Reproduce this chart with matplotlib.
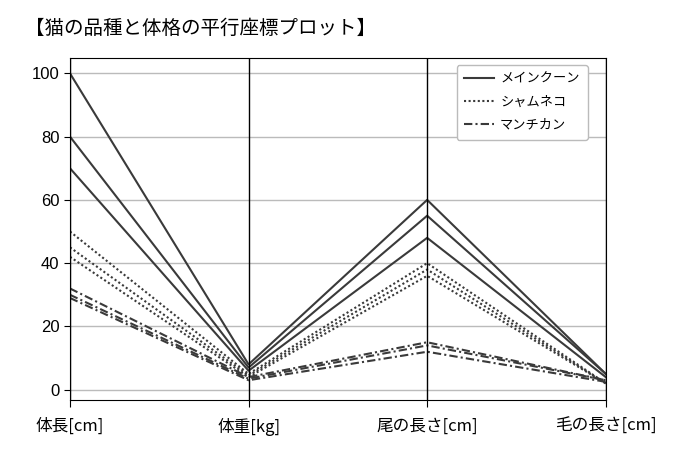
import matplotlib
matplotlib.use("Agg")
import matplotlib.pyplot as plt

plt.rcParams['font.family'] = ['Noto Sans CJK JP', 'DejaVu Sans']

features = ["体長[cm]", "体重[kg]", "尾の長さ[cm]", "毛の長さ[cm]"]
breeds = ["メインクーン", "シャムネコ", "マンチカン"]

maine_coon = [[100, 8, 60, 5], [80, 7, 55, 5], [70, 6, 48, 4]]
siamese = [[50, 5, 40, 2], [45, 4.5, 38, 2], [42, 4, 36, 2]]
munchkin = [[32, 4, 15, 3], [30, 3.5, 14, 3], [29, 3, 12, 2.5]]
title = "【猫の品種と体格の平行座標プロット】"

data = [maine_coon, siamese, munchkin]
styles = ["-", (0, (1, 1.2)), (0, (4, 1.5, 1, 1.5))]
color = "#3a3a3a"

fig = plt.figure(figsize=(6.86, 4.58), dpi=100)
ax = fig.add_axes([0.102, 0.127, 0.781, 0.746])

x = list(range(len(features)))
handles = []
for name, rows, ls in zip(breeds, data, styles):
    for i, r in enumerate(rows):
        ln, = ax.plot(x, r, linestyle=ls, color=color, linewidth=1.5,
                      label=name if i == 0 else None)
        if i == 0:
            handles.append(ln)

for xi in x:
    ax.axvline(xi, color="black", linewidth=1.0)

ax.set_xlim(0, len(features) - 1)
ax.set_ylim(-3.2, 104.8)
ax.set_xticks(x)
ax.set_xticklabels(features, fontsize=12)
ax.tick_params(axis='x', length=5, pad=8)
ax.set_yticks([0, 20, 40, 60, 80, 100])
ax.set_yticklabels(["0", "20", "40", "60", "80", "100"],
                   family=['Liberation Sans', 'DejaVu Sans'])
ax.tick_params(axis='y', labelsize=12, length=4)
ax.yaxis.grid(True, color="#bbbbbb", linewidth=1.0)
ax.set_axisbelow(True)
for s in ax.spines.values():
    s.set_color("black")

ax.legend(handles=handles, loc="upper right", bbox_to_anchor=(0.966, 0.98),
          fontsize=9.5, frameon=True, framealpha=1.0, edgecolor="#bbbbbb",
          handlelength=2.2, borderaxespad=0.0, handletextpad=0.5,
          labelspacing=0.75, borderpad=0.6)

fig.text(0.036, 0.939, title, fontsize=14, ha="left", va="center")

fig.savefig("out.png", dpi=100)
